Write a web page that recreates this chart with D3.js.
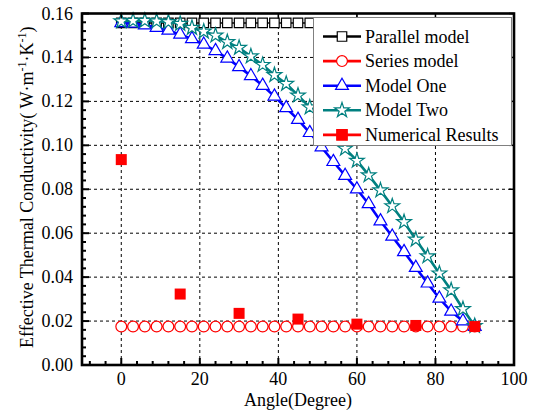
<!DOCTYPE html>
<html>
<head>
<meta charset="utf-8">
<script src="https://cdn.jsdelivr.net/npm/d3@7/dist/d3.min.js"></script>
<style>
  html, body { margin: 0; padding: 0; background: #fff; }
  svg { display: block; }
</style>
</head>
<body>
<svg id="chart" width="535" height="412"></svg>
<script>
// Angle samples (degrees) for the model curves
const angles = [0, 3, 6, 9, 12, 15, 18, 21, 24, 27, 30, 33, 36, 39, 42, 45,
                48, 51, 54, 57, 60, 63, 66, 69, 72, 75, 78, 81, 84, 87, 90];

const parallelModel = [0.1557, 0.1557, 0.1557, 0.1557, 0.1557, 0.1557, 0.1557, 0.1557,
                       0.1557, 0.1557, 0.1557, 0.1557, 0.1557, 0.1557, 0.1557, 0.1557,
                       0.1557, 0.1557, 0.1557, 0.1557, 0.1557, 0.1557, 0.1557, 0.1557,
                       0.1557, 0.1557, 0.1557, 0.1557, 0.1557, 0.1557, 0.1557];

const seriesModel = [0.0175, 0.0175, 0.0175, 0.0175, 0.0175, 0.0175, 0.0175, 0.0175,
                     0.0175, 0.0175, 0.0175, 0.0175, 0.0175, 0.0175, 0.0175, 0.0175,
                     0.0175, 0.0175, 0.0175, 0.0175, 0.0175, 0.0175, 0.0175, 0.0175,
                     0.0175, 0.0175, 0.0175, 0.0175, 0.0175, 0.0175, 0.0175];

const modelOne = [0.1557, 0.1555, 0.1547, 0.1536, 0.1523, 0.1505, 0.1484, 0.1459,
                  0.1430, 0.1396, 0.1357, 0.1316, 0.1272, 0.1223, 0.1170, 0.1117,
                  0.1057, 0.0992, 0.0925, 0.0862, 0.0800, 0.0733, 0.0655, 0.0585,
                  0.0515, 0.0443, 0.0372, 0.0303, 0.0244, 0.0200, 0.0175];

const modelTwo = [0.1565, 0.1567, 0.1567, 0.1565, 0.1561, 0.1553, 0.1535, 0.1518,
                  0.1500, 0.1470, 0.1444, 0.1405, 0.1366, 0.1320, 0.1280, 0.1227,
                  0.1173, 0.1112, 0.1050, 0.0985, 0.0930, 0.0864, 0.0795, 0.0723,
                  0.0651, 0.0571, 0.0495, 0.0417, 0.0340, 0.0255, 0.0178];

// Numerical simulation results
const numAngles = [0, 15, 30, 45, 60, 75, 90];
const numResults = [0.0935, 0.0323, 0.0235, 0.0209, 0.0186, 0.0180, 0.0175];

// Axis ticks
const xTicks = [0, 20, 40, 60, 80, 100];
const yTicks = [0.00, 0.02, 0.04, 0.06, 0.08, 0.10, 0.12, 0.14, 0.16];

const FONT = "'Liberation Serif', 'Times New Roman', serif";

const seriesDefs = [
  { name: "Parallel model", values: parallelModel, color: "#000000", symbol: d3.symbolSquare, size: 90, width: 1.5 },
  { name: "Series model", values: seriesModel, color: "#ff0000", symbol: d3.symbolCircle, size: 92, width: 1.5 },
  { name: "Model One", values: modelOne, color: "#0000ff", symbol: d3.symbolTriangle, size: 72, width: 2.6 },
  { name: "Model Two", values: modelTwo, color: "#008080", symbol: d3.symbolStar, size: 68, width: 2.6 }
];

const W = 535, H = 412;
const margin = { left: 82, right: 21, top: 13.5, bottom: 47 };
const svg = d3.select("#chart");

const x = d3.scaleLinear().domain([-10, 100]).range([margin.left, W - margin.right]);
const y = d3.scaleLinear().domain([0, 0.16]).range([H - margin.bottom, margin.top]);

const x0 = x.range()[0], x1 = x.range()[1];
const y0 = y.range()[0], y1 = y.range()[1];

// Dashed grid at major ticks
const grid = svg.append("g").attr("stroke", "#000").attr("stroke-width", 1)
  .attr("stroke-dasharray", "3,3").attr("fill", "none");
grid.selectAll("line.gx").data(xTicks.filter(t => t < 100)).join("line")
  .attr("x1", d => x(d)).attr("x2", d => x(d)).attr("y1", y0).attr("y2", y1);
grid.selectAll("line.gy").data(yTicks.filter(t => t > 0 && t < 0.16)).join("line")
  .attr("x1", x0).attr("x2", x1).attr("y1", d => y(d)).attr("y2", d => y(d));

// Series lines and hollow markers
const plot = svg.append("g");
seriesDefs.forEach(s => {
  const pts = angles.map((a, i) => [a, s.values[i]]);
  plot.append("path")
    .attr("d", d3.line().x(d => x(d[0])).y(d => y(d[1]))(pts))
    .attr("fill", "none").attr("stroke", s.color).attr("stroke-width", s.width);
  plot.append("g").selectAll("path").data(pts).join("path")
    .attr("transform", d => `translate(${x(d[0])},${y(d[1])})`)
    .attr("d", d3.symbol().type(s.symbol).size(s.size))
    .attr("fill", "#fff").attr("stroke", s.color).attr("stroke-width", 1.2);
});

// Numerical results (filled squares)
plot.append("g").selectAll("rect").data(numAngles.map((a, i) => [a, numResults[i]])).join("rect")
  .attr("x", d => x(d[0]) - 5.5).attr("y", d => y(d[1]) - 5.5)
  .attr("width", 11).attr("height", 11).attr("fill", "#ff0000");

// Axes: inward ticks on bottom/left with minor ticks, major ticks on top/right
const xMinor = d3.range(-8, 101, 4).filter(v => v % 20 !== 0);
const yMinor = d3.range(0, 0.1601, 0.004).filter(v => Math.abs(Math.round(v / 0.02) * 0.02 - v) > 1e-6);

const axisG = svg.append("g").attr("stroke", "#000");
axisG.selectAll("line.xmaj").data(xTicks).join("line")
  .attr("x1", d => x(d)).attr("x2", d => x(d)).attr("y1", y0).attr("y2", y0 - 7).attr("stroke-width", 2);
axisG.selectAll("line.xmin").data(xMinor).join("line")
  .attr("x1", d => x(d)).attr("x2", d => x(d)).attr("y1", y0).attr("y2", y0 - 4).attr("stroke-width", 2);
axisG.selectAll("line.ymaj").data(yTicks).join("line")
  .attr("x1", x0).attr("x2", x0 + 7).attr("y1", d => y(d)).attr("y2", d => y(d)).attr("stroke-width", 2);
axisG.selectAll("line.ymin").data(yMinor).join("line")
  .attr("x1", x0).attr("x2", x0 + 4).attr("y1", d => y(d)).attr("y2", d => y(d)).attr("stroke-width", 2);
axisG.selectAll("line.xtop").data(xTicks).join("line")
  .attr("x1", d => x(d)).attr("x2", d => x(d)).attr("y1", y1).attr("y2", y1 + 5).attr("stroke-width", 1.5);
axisG.selectAll("line.yright").data(yTicks).join("line")
  .attr("x1", x1).attr("x2", x1 - 5).attr("y1", d => y(d)).attr("y2", d => y(d)).attr("stroke-width", 1.5);

// Frame
svg.append("rect").attr("x", x0).attr("y", y1).attr("width", x1 - x0).attr("height", y0 - y1)
  .attr("fill", "none").attr("stroke", "#000").attr("stroke-width", 2.6);

// Tick labels
svg.append("g").selectAll("text").data(xTicks).join("text")
  .style("font-family", FONT)
  .attr("x", d => x(d)).attr("y", y0 + 20).attr("text-anchor", "middle")
  .attr("font-size", 18).text(d => d);
svg.append("g").selectAll("text").data(yTicks).join("text")
  .style("font-family", FONT)
  .attr("x", x0 - 9).attr("y", d => y(d) + 6).attr("text-anchor", "end")
  .attr("font-size", 18).text(d => d3.format(".2f")(d));

// Axis titles
svg.append("text").style("font-family", FONT).attr("x", (x0 + x1) / 2).attr("y", H - 6)
  .attr("text-anchor", "middle").attr("font-size", 18).text("Angle(Degree)");
const yt = svg.append("text").style("font-family", FONT)
  .attr("transform", `translate(33,${(y0 + y1) / 2 - 2}) rotate(-90)`)
  .attr("text-anchor", "middle").attr("font-size", 18);
yt.append("tspan").text("Effective Thermal Conductivity( W·m");
yt.append("tspan").attr("dy", -7).attr("font-size", 12).text("-1");
yt.append("tspan").attr("dy", 7).text("·K");
yt.append("tspan").attr("dy", -7).attr("font-size", 12).text("-1");
yt.append("tspan").attr("dy", 7).text(")");

// Legend
const legend = svg.append("g");
legend.append("rect").attr("x", 313.5).attr("y", 17.5).attr("width", 198).attr("height", 128)
  .attr("fill", "#fff").attr("stroke", "#808080").attr("stroke-width", 1);
const legendItems = seriesDefs.map(s => ({ name: s.name, color: s.color, symbol: s.symbol, size: s.size, width: s.width, filled: false }))
  .concat([{ name: "Numerical Results", color: "#ff0000", symbol: d3.symbolSquare, size: 110, width: 2.6, filled: true }]);
legendItems.forEach((it, i) => {
  const cy = 36.5 + i * 24.6;
  legend.append("line").attr("x1", 323).attr("x2", 361).attr("y1", cy).attr("y2", cy)
    .attr("stroke", it.color).attr("stroke-width", 2.6);
  legend.append("path").attr("transform", `translate(342,${cy})`)
    .attr("d", d3.symbol().type(it.symbol).size(it.size))
    .attr("fill", it.filled ? it.color : "#fff").attr("stroke", it.color).attr("stroke-width", 1.2);
  legend.append("text").style("font-family", FONT).attr("x", 365).attr("y", cy + 6)
    .attr("font-size", 18).text(it.name);
});
</script>
</body>
</html>
